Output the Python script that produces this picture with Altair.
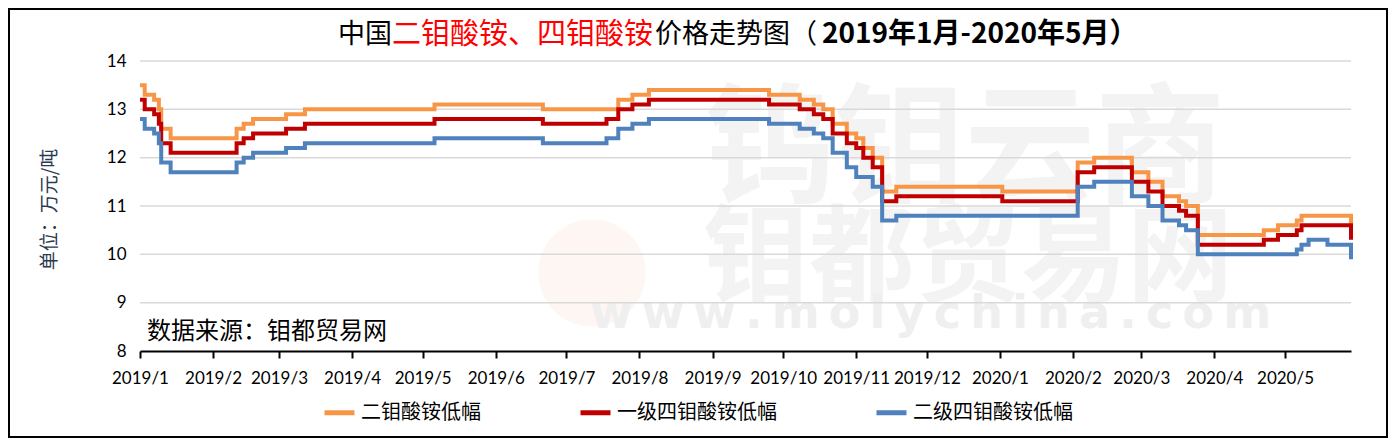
import altair as alt
import pandas as pd

# ---- data (change points, step-wise price series, unit: 10k CNY / t) ----
dates = [
    "2019-01-01", "2019-01-03", "2019-01-07", "2019-01-09", "2019-01-10", "2019-01-14",
    "2019-02-11", "2019-02-14", "2019-02-18", "2019-03-04", "2019-03-12", "2019-05-06",
    "2019-06-21", "2019-07-18", "2019-07-23", "2019-07-29", "2019-08-05", "2019-09-25",
    "2019-10-08", "2019-10-14", "2019-10-18", "2019-10-22", "2019-10-28", "2019-11-01",
    "2019-11-04", "2019-11-08", "2019-11-12", "2019-11-18", "2020-01-02", "2020-02-03",
    "2020-02-10", "2020-02-26", "2020-03-04", "2020-03-10", "2020-03-17", "2020-03-20",
    "2020-03-25", "2020-04-22", "2020-04-28", "2020-05-06", "2020-05-08", "2020-05-11",
    "2020-05-19", "2020-05-29",
]
er_mo = [
    13.5, 13.3, 13.2, 13.0, 12.6, 12.4,
    12.6, 12.7, 12.8, 12.9, 13.0, 13.1,
    13.0, 13.0, 13.2, 13.3, 13.4, 13.3,
    13.2, 13.1, 13.0, 12.7, 12.5, 12.4,
    12.2, 12.0, 11.3, 11.4, 11.3, 11.9,
    12.0, 11.7, 11.5, 11.2, 11.1, 11.0,
    10.4, 10.5, 10.6, 10.7, 10.8, 10.8,
    10.8, 10.5,
]
si_mo_1 = [
    13.2, 13.0, 12.9, 12.7, 12.3, 12.1,
    12.3, 12.4, 12.5, 12.6, 12.7, 12.8,
    12.7, 12.8, 13.0, 13.1, 13.2, 13.1,
    13.0, 12.9, 12.8, 12.5, 12.3, 12.2,
    12.0, 11.8, 11.1, 11.2, 11.1, 11.7,
    11.8, 11.5, 11.3, 11.0, 10.9, 10.8,
    10.2, 10.3, 10.4, 10.5, 10.6, 10.6,
    10.6, 10.3,
]
si_mo_2 = [
    12.8, 12.6, 12.5, 12.3, 11.9, 11.7,
    11.9, 12.0, 12.1, 12.2, 12.3, 12.4,
    12.3, 12.4, 12.6, 12.7, 12.8, 12.7,
    12.6, 12.5, 12.4, 12.1, 11.8, 11.6,
    11.6, 11.4, 10.7, 10.8, 10.8, 11.4,
    11.5, 11.2, 11.0, 10.7, 10.6, 10.5,
    10.0, 10.0, 10.0, 10.1, 10.2, 10.3,
    10.2, 9.9,
]
series_names = ["二钼酸铵低幅", "一级四钼酸铵低幅", "二级四钼酸铵低幅"]
series_colors = ["#F79646", "#C00000", "#4F81BD"]
y_ticks = [8, 9, 10, 11, 12, 13, 14]
month_ticks = [(2019, m) for m in range(1, 13)] + [(2020, m) for m in range(1, 6)]
x_start = (2019, 1, 1)
x_end = (2020, 5, 29)

CJK = "Noto Sans CJK SC"
NUM = "Lato"

rows = []
for name, vals in zip(series_names, [er_mo, si_mo_1, si_mo_2]):
    for d, v in zip(dates, vals):
        rows.append({"date": d + "T00:00:00", "value": v, "series": name})
df = pd.DataFrame(rows)

y_scale = alt.Scale(domain=[y_ticks[0], y_ticks[-1]], nice=False, zero=False)
x_scale = alt.Scale(domain=[alt.DateTime(year=x_start[0], month=x_start[1], date=x_start[2]),
                            alt.DateTime(year=x_end[0], month=x_end[1], date=x_end[2])])
y_axis = alt.Axis(values=y_ticks, grid=False, domain=False, ticks=False,
                  labelFont=NUM, labelFontSize=17, labelColor="black", labelPadding=14,
                  title="单位：万元/吨",
                  titleFont=CJK, titleFontSize=19, titleFontWeight="normal",
                  titleColor="#2B3A4E", titleAngle=270, titleX=-91, titleY=148,
                  titleAlign="center", titleBaseline="middle")

one = pd.DataFrame({"t": [0]})


def txt(s, x, y, size, color, weight="normal", font=CJK, align="left"):
    return alt.Chart(pd.DataFrame({"t": [s]})).mark_text(
        align=align, baseline="middle", fontSize=size, font=font,
        color=color, fontWeight=weight
    ).encode(x=alt.value(x), y=alt.value(y), text="t:N")


# watermark (faint logo + text)
logo_circle = alt.Chart(one).mark_point(filled=True, shape="circle", size=11500,
                                        color="#FEF6F3", opacity=1).encode(
    x=alt.value(452), y=alt.value(212))
wm_color = "#F3F3F3"
wm1 = txt("钨钼云商", 565, 92, 130, wm_color, weight="bold")
wm2 = txt("钼都贸易网", 563, 200, 106, wm_color, weight="bold")
wm3 = txt("w\u2009w\u2009w\u2009.\u2009m\u2009o\u2009l\u2009y\u2009c\u2009h\u2009i\u2009n\u2009a\u2009.\u2009c\u2009o\u2009m",
          450, 253, 46, "#EFEFEF", weight="bold", font="DejaVu Sans")

grid = alt.Chart(pd.DataFrame({"value": y_ticks[1:]})).mark_rule(
    color="#D9D9D9", strokeWidth=1.5
).encode(y=alt.Y("value:Q", scale=y_scale, axis=y_axis))

lines = alt.Chart(df).mark_line(strokeWidth=4, interpolate="step-after").encode(
    x=alt.X("date:T", scale=x_scale, title=None,
            axis=alt.Axis(values=[alt.DateTime(year=y, month=m, date=1) for y, m in month_ticks],
                          format="%Y/%-m", formatType="time", labelOverlap=False, labelFlush=False,
                          labelFont=NUM, labelFontSize=17, labelColor="black", labelPadding=12,
                          domainColor="black", domainWidth=2, tickColor="black", tickWidth=2,
                          tickSize=7, grid=False)),
    y=alt.Y("value:Q", scale=y_scale, axis=y_axis),
    color=alt.Color("series:N", sort=series_names,
                    scale=alt.Scale(domain=series_names, range=series_colors),
                    legend=alt.Legend(title=None, orient="none", direction="horizontal",
                                      legendX=182, legendY=334, symbolType="stroke",
                                      symbolSize=900, symbolStrokeWidth=5, labelFont=CJK,
                                      labelFontSize=20, labelColor="black", columnPadding=89,
                                      labelOffset=4, padding=0)),
)

source = txt("数据来源：钼都贸易网", 7, 271, 24, "black")
title_y = -26
t1 = txt("中国", 198, title_y, 27, "black")
t2 = txt("二钼酸铵、四钼酸铵", 252, title_y, 29, "#FF0000")
t3 = txt("价格走势图（", 515, title_y, 27, "black")
t4 = txt("2019年1月-2020年5月）", 682, title_y, 28, "black", weight="bold")

frame = alt.Chart(one).mark_rect(fillOpacity=0, stroke="black", strokeWidth=2).encode(
    x=alt.value(-131), x2=alt.value(1247), y=alt.value(-52), y2=alt.value(376)
)

chart = alt.layer(logo_circle, wm1, wm2, wm3, grid, lines, source, t1, t2, t3, t4, frame).properties(
    width=1211, height=290,
    padding={"left": 132, "top": 53, "right": 37, "bottom": 87},
    autosize=alt.AutoSizeParams(type="none"),
    background="white",
).configure_view(stroke=None)

chart.save("out.html", embed_options={"renderer": "svg", "actions": False})
